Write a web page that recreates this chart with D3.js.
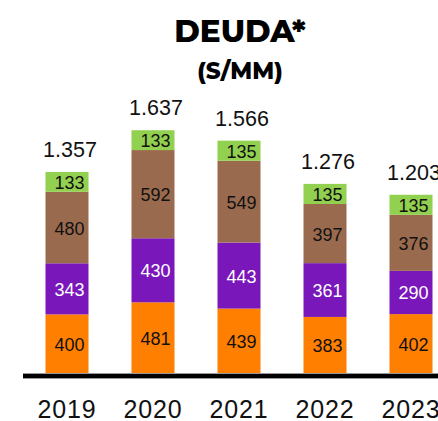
<!DOCTYPE html>
<html>
<head>
<meta charset="utf-8">
<script src="https://cdn.jsdelivr.net/npm/d3@7"></script>
<style>
  html, body { margin: 0; padding: 0; background: #fff; }
  svg { display: block; }
</style>
</head>
<body>
<div id="chart"></div>
<script>
// Deuda por año, barras apiladas (S/MM)
const years = ['2019', '2020', '2021', '2022', '2023'];
const seriesKeys = ['naranja', 'morado', 'marron', 'verde'];
const naranja = [400, 481, 439, 383, 402];
const morado = [343, 430, 443, 361, 290];
const marron = [480, 592, 549, 397, 376];
const verde = [133, 133, 135, 135, 135];
const totalLabels = ['1.357', '1.637', '1.566', '1.276', '1.203'];

(function() {
  const width = 438, height = 421;

  const colors = {
    naranja: '#FF7F00',
    morado: '#7A17BB',
    marron: '#9A6A4E',
    verde: '#92D050'
  };
  const labelColors = { naranja: '#111', morado: '#fff', marron: '#111', verde: '#111' };

  const rows = years.map((y, i) => ({
    year: y,
    naranja: naranja[i],
    morado: morado[i],
    marron: marron[i],
    verde: verde[i],
    total: totalLabels[i]
  }));

  const svg = d3.select('#chart')
    .append('svg')
    .attr('width', width)
    .attr('height', height);

  const x = d3.scaleBand()
    .domain(years)
    .range([24, 454])
    .paddingInner(0.5)
    .paddingOuter(0.25);

  const y = d3.scaleLinear()
    .domain([0, 1700])
    .range([374, 120.7]);

  const stacked = d3.stack().keys(seriesKeys)(rows);

  // title
  svg.append('text')
    .attr('x', 240)
    .attr('y', 42)
    .attr('text-anchor', 'middle')
    .style('font-family', 'Montserrat, "Open Sans", sans-serif')
    .style('font-weight', 800)
    .style('font-size', '31px')
    .style('fill', '#000')
    .text('DEUDA*');

  svg.append('text')
    .attr('x', 240)
    .attr('y', 79)
    .attr('text-anchor', 'middle')
    .style('font-family', 'Montserrat, "Open Sans", sans-serif')
    .style('font-weight', 800)
    .style('font-size', '23px')
    .style('fill', '#000')
    .text('(S/MM)');

  // bars
  const layers = svg.selectAll('.layer')
    .data(stacked)
    .enter()
    .append('g')
    .attr('class', 'layer')
    .attr('fill', d => colors[d.key]);

  layers.selectAll('rect')
    .data(d => d)
    .enter()
    .append('rect')
    .attr('x', d => x(d.data.year))
    .attr('width', x.bandwidth())
    .attr('y', d => y(d[1]))
    .attr('height', d => y(d[0]) - y(d[1]));

  // segment labels
  layers.selectAll('text')
    .data(d => d.map(p => Object.assign({ key: d.key }, p)))
    .enter()
    .append('text')
    .attr('x', d => x(d.data.year) + x.bandwidth() / 2 + 2.5)
    .attr('y', d => (y(d[0]) + y(d[1])) / 2 + 7)
    .attr('text-anchor', 'middle')
    .style('font-family', '"Liberation Sans", Arial, sans-serif')
    .style('font-size', '18px')
    .style('fill', d => labelColors[d.key])
    .text(d => d.data[d.key]);

  // totals
  const totals = years.map((yr, i) => naranja[i] + morado[i] + marron[i] + verde[i]);
  svg.selectAll('.total')
    .data(rows)
    .enter()
    .append('text')
    .attr('class', 'total')
    .attr('x', d => x(d.year) + x.bandwidth() / 2 + 3)
    .attr('y', (d, i) => y(totals[i]) - 15)
    .attr('text-anchor', 'middle')
    .style('font-family', '"Liberation Sans", Arial, sans-serif')
    .style('font-size', '21.5px')
    .style('fill', '#111')
    .text(d => d.total);

  // axis line
  svg.append('line')
    .attr('x1', 23).attr('x2', width)
    .attr('y1', 376).attr('y2', 376)
    .attr('stroke', '#999')
    .attr('stroke-width', 6);
  svg.append('line')
    .attr('x1', 23).attr('x2', width)
    .attr('y1', 376).attr('y2', 376)
    .attr('stroke', '#000')
    .attr('stroke-width', 4);

  // year labels
  const xAxis = d3.axisBottom(x).tickSize(0).tickPadding(0);
  const ax = svg.append('g')
    .attr('transform', 'translate(0, 400)')
    .call(xAxis);
  ax.select('.domain').remove();
  ax.selectAll('text')
    .attr('dy', '0.71em')
    .style('font-family', '"Liberation Sans", Arial, sans-serif')
    .style('font-size', '25px')
    .style('letter-spacing', '0.8px')
    .style('fill', '#111');
})();
</script>
</body>
</html>
